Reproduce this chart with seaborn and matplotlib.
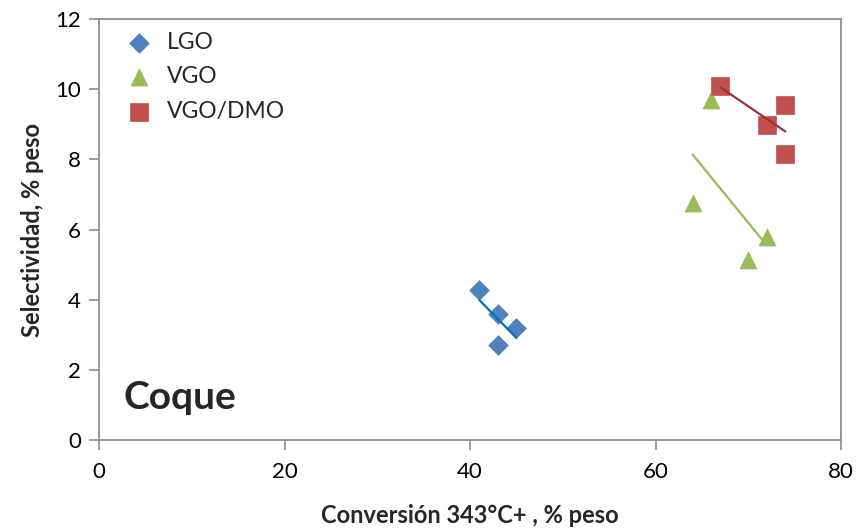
import matplotlib
matplotlib.use("Agg")
import matplotlib.pyplot as plt
import seaborn as sns
import pandas as pd

lgo_x = [41, 43, 43, 45]
lgo_y = [4.28, 3.6, 2.72, 3.2]
vgo_x = [64, 66, 70, 72]
vgo_y = [6.76, 9.68, 5.13, 5.8]
dmo_x = [67, 72, 74, 74]
dmo_y = [10.1, 8.98, 9.56, 8.15]
series_names = ["LGO", "VGO", "VGO/DMO"]

sns.set_theme(style="white")
plt.rcParams['font.family'] = ['Lato', 'DejaVu Sans']

fig = plt.figure(figsize=(8.56, 5.32), dpi=100)
ax = fig.add_axes([0.1157, 0.1729, 0.8668, 0.7914])

colors = ["#4F81BD", "#9BBB59", "#C0504D"]
line_colors = ["#0070C0", "#9BBB59", "#943634"]
markers = ["D", "^", "s"]
sizes = [100, 150, 170]
data = [(lgo_x, lgo_y), (vgo_x, vgo_y), (dmo_x, dmo_y)]

for name, (xs, ys), c, lc, m, s in zip(series_names, data, colors, line_colors, markers, sizes):
    df = pd.DataFrame({"x": xs, "y": ys})
    sns.scatterplot(data=df, x="x", y="y", marker=m, s=s, color=c, edgecolor=c,
                    linewidth=0.5, ax=ax, zorder=3, label=name)
    sns.regplot(data=df, x="x", y="y", scatter=False, ci=None, truncate=True,
                line_kws={"color": lc, "lw": 1.6, "zorder": 4}, ax=ax)

ax.set_xlim(0, 80)
ax.set_ylim(0, 12)
ax.set_xticks([0, 20, 40, 60, 80])
ax.set_yticks([0, 2, 4, 6, 8, 10, 12])
for sp in ax.spines.values():
    sp.set_color("#8c8c8c")
    sp.set_linewidth(1.3)
ax.tick_params(axis="both", direction="out", length=7, width=1.2, color="#8c8c8c",
               labelsize=16, labelcolor="black", bottom=True, left=True)
ax.tick_params(axis="x", pad=9)
ax.tick_params(axis="y", pad=6)

ax.set_xlabel("Conversión 343°C+ , % peso", fontsize=17, fontweight="bold", labelpad=16)
ax.set_ylabel("Selectividad, % peso", fontsize=17, fontweight="bold", labelpad=8)

ax.text(0.033, 0.1, "Coque", transform=ax.transAxes, fontsize=28, fontweight="bold",
        ha="left", va="center")

leg = ax.legend(loc="upper left", bbox_to_anchor=(0.006, 1.0), frameon=False, fontsize=16.5,
                handletextpad=0.2, labelspacing=0.6, borderaxespad=0.15)

fig.savefig("out.png", dpi=100)
